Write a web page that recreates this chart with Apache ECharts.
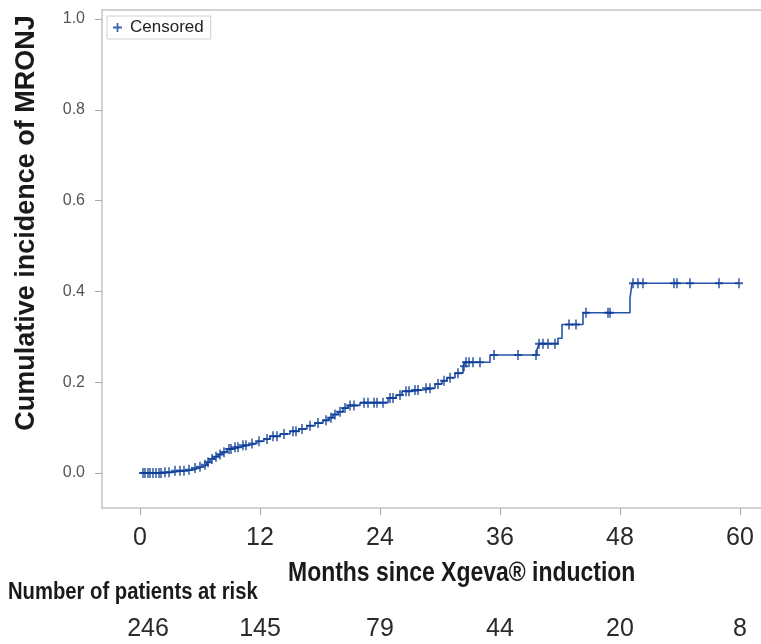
<!DOCTYPE html>
<html>
<head>
<meta charset="utf-8">
<script src="https://cdn.jsdelivr.net/npm/echarts@6/dist/echarts.min.js"></script>
<style>
html,body{margin:0;padding:0;background:#fff;}
#chart{width:761px;height:644px;}
</style>
</head>
<body>
<div id="chart"></div>
<script>
// ---- data ----
const eventMonths = [0, 2.2, 3.3, 4.5, 5.3, 5.9, 6.3, 6.7, 7.0, 7.4, 7.8, 8.2, 8.7, 9.3, 10.0, 10.8, 11.7, 12.4, 13.0, 14.0, 15.0, 15.9, 16.7, 17.5, 18.3, 18.9, 19.3, 19.8, 20.3, 20.8, 22.0, 24.8, 25.6, 26.2, 27.2, 28.3, 29.5, 30.2, 30.7, 31.5, 32.3, 32.5, 35.0, 39.7, 39.9, 41.8, 42.2, 44.3, 49.0, 49.2, 59.9];
const cumIncidence = [0, 0.002, 0.005, 0.007, 0.011, 0.014, 0.018, 0.024, 0.031, 0.036, 0.041, 0.046, 0.053, 0.057, 0.061, 0.065, 0.070, 0.075, 0.081, 0.086, 0.092, 0.097, 0.104, 0.110, 0.116, 0.122, 0.129, 0.135, 0.143, 0.149, 0.155, 0.165, 0.172, 0.180, 0.183, 0.187, 0.196, 0.203, 0.210, 0.220, 0.235, 0.244, 0.260, 0.272, 0.285, 0.297, 0.327, 0.353, 0.385, 0.418, 0.418];
const censorMonths = [0.3, 0.5, 0.8, 1.0, 1.3, 1.6, 1.9, 2.1, 2.5, 2.9, 3.5, 4.0, 4.4, 4.9, 5.5, 6.0, 6.5, 6.8, 7.2, 7.6, 8.0, 8.4, 8.9, 9.1, 9.5, 9.8, 10.3, 10.6, 11.2, 11.9, 12.7, 13.3, 13.7, 14.4, 15.3, 15.6, 16.2, 17.0, 17.8, 18.6, 19.1, 19.5, 20.0, 20.5, 21.0, 21.4, 22.4, 22.8, 23.4, 23.7, 24.3, 25.0, 25.3, 26.0, 26.6, 26.9, 27.5, 27.8, 28.6, 29.0, 29.8, 30.4, 31.0, 31.8, 32.4, 32.6, 32.9, 33.3, 34.0, 35.4, 37.8, 39.6, 39.9, 40.3, 40.8, 41.5, 42.9, 43.6, 44.6, 46.8, 47.0, 49.3, 49.8, 50.3, 53.4, 53.7, 55.0, 57.9, 59.9];
const xTicks = [0, 12, 24, 36, 48, 60];
const yTicks = [0, 0.2, 0.4, 0.6, 0.8, 1.0];
const riskMonths = [0, 12, 24, 36, 48, 60];
const riskCounts = [246, 145, 79, 44, 20, 8];

// ---- build ----
const curve = eventMonths.map((m, i) => [m, cumIncidence[i]]);
function stepValue(t) {
  let v = 0;
  for (let i = 0; i < eventMonths.length; i++) { if (eventMonths[i] <= t) v = cumIncidence[i]; }
  return v;
}
const censored = censorMonths.map(t => [t, stepValue(t)]);

const plusPath = 'path://M4,0h2v4h4v2h-4v4h-2v-4h-4v-2h4z';
const sans = '"Liberation Sans", Arial, sans-serif';
const frame = {color: '#c4c4c4', width: 1.5};

const chart = echarts.init(document.getElementById('chart'), null, {renderer: 'canvas'});
chart.setOption({
  animation: false,
  backgroundColor: '#fff',
  grid: {left: 102, top: 10, width: 670, height: 498, outerBoundsMode: 'none', containLabel: false, show: false},
  legend: {
    data: [{name: 'Censored', icon: plusPath}],
    left: 107, top: 16, orient: 'vertical',
    itemWidth: 9, itemHeight: 9, itemGap: 4,
    padding: [3, 7, 3, 6],
    borderColor: '#cfcfcf', borderWidth: 1,
    textStyle: {fontFamily: sans, fontSize: 17, color: '#222', padding: [0, 0, 0, 3]}
  },
  xAxis: [{
    type: 'value', min: -3.8, max: 63.2, position: 'bottom',
    axisLine: {show: true, onZero: false, lineStyle: frame},
    splitLine: {show: false},
    axisTick: {show: true, customValues: xTicks, length: 7, lineStyle: {color: '#aaa', width: 1}},
    axisLabel: {customValues: xTicks, margin: 18, fontFamily: sans, fontSize: 25, color: '#2a2a2a'}
  }, {
    type: 'value', min: -3.8, max: 63.2, position: 'bottom', offset: 109,
    axisLine: {show: false, onZero: false}, axisTick: {show: false}, splitLine: {show: false},
    axisLabel: {customValues: riskMonths, margin: 0, fontFamily: sans, fontSize: 25, color: '#2a2a2a',
      formatter: v => { const i = riskMonths.indexOf(v); return i === 0 ? '{first|' + riskCounts[i] + '}' : String(riskCounts[i]); },
      rich: {first: {fontFamily: sans, fontSize: 25, color: '#2a2a2a', padding: [0, 0, 0, 16]}}}
  }, {
    type: 'value', min: -3.8, max: 63.2, position: 'top',
    axisLine: {show: true, onZero: false, lineStyle: frame},
    axisTick: {show: false}, axisLabel: {show: false}, splitLine: {show: false}
  }],
  yAxis: {
    type: 'value', min: -0.077, max: 1.0198,
    axisLine: {show: true, onZero: false, lineStyle: frame},
    splitLine: {show: false},
    axisTick: {show: true, customValues: yTicks, length: 7, lineStyle: {color: '#aaa', width: 1}},
    axisLabel: {customValues: yTicks, margin: 17, fontFamily: sans, fontSize: 16, color: '#555',
      formatter: v => v.toFixed(1)},
    name: 'Cumulative incidence of MRONJ', nameLocation: 'middle', nameGap: 62,
    nameTextStyle: {fontFamily: sans, fontWeight: 'bold', fontSize: 27, color: '#1a1a1a', padding: [0, 0, 0, 72]}
  },
  graphic: [{
    type: 'text', x: 288, y: 559, scaleX: 0.82,
    style: {text: 'Months since Xgeva® induction', font: 'bold 28px ' + sans, fill: '#1a1a1a', verticalAlign: 'top'}
  }, {
    type: 'text', x: 8, y: 581, scaleX: 0.88,
    style: {text: 'Number of patients at risk', font: 'bold 23px ' + sans, fill: '#1a1a1a', verticalAlign: 'top'}
  }],
  series: [{
    name: 'Incidence', type: 'line', step: 'end', data: curve,
    showSymbol: false, symbol: 'none',
    lineStyle: {color: '#2553a8', width: 1.6},
    z: 2
  }, {
    name: 'Censored', type: 'scatter', data: censored,
    symbol: plusPath, symbolSize: [8, 10],
    itemStyle: {color: '#0b3c96'},
    z: 3
  }]
});
</script>
</body>
</html>
